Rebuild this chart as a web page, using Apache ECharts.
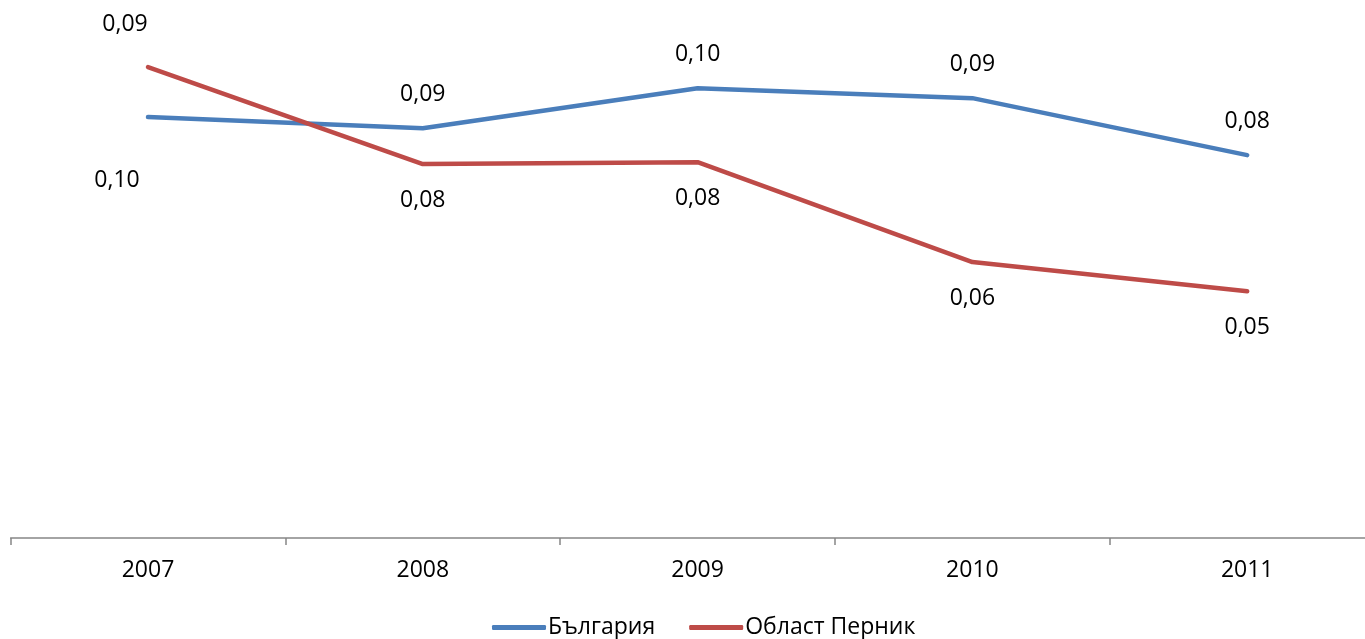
<!DOCTYPE html>
<html><head><meta charset="utf-8">
<script src="https://cdn.jsdelivr.net/npm/echarts@6/dist/echarts.min.js"></script>
<style>html,body{margin:0;padding:0;background:#fff}#c{width:1365px;height:639px}</style>
</head><body><div id="c"></div>
<script>
const years = ['2007', '2008', '2009', '2010', '2011'];
const bulgaria = [0.0894, 0.0870, 0.0955, 0.0934, 0.0813];
const pernik = [0.1000, 0.0794, 0.0798, 0.0586, 0.0524];
const bulgariaLabels = ['0,09', '0,09', '0,10', '0,09', '0,08'];
const pernikLabels = ['0,10', '0,08', '0,08', '0,06', '0,05'];
const seriesNames = ['България', 'Област Перник'];

const FONT = '"Open Sans", "Noto Sans", sans-serif';
const FS = 23;
const chart = echarts.init(document.getElementById('c'));

function buildData(values, firstLabelPos) {
  return values.map((v, i) => {
    const item = { value: v };
    if (i === 0) {
      item.label = { position: firstLabelPos, align: 'center', verticalAlign: 'middle' };
    }
    return item;
  });
}

chart.setOption({
  animation: false,
  textStyle: { fontFamily: FONT },
  grid: { left: 10.6, width: 1374, top: 20, bottom: 101, containLabel: false, outerBoundsMode: 'none' },
  xAxis: {
    type: 'category',
    data: years,
    boundaryGap: true,
    axisLine: { lineStyle: { color: '#868686', width: 1.5 } },
    axisTick: { show: true, length: 7, lineStyle: { color: '#868686', width: 1.5 } },
    axisLabel: { color: '#000', fontSize: FS, fontFamily: FONT, margin: 21 }
  },
  yAxis: {
    type: 'value', min: 0, max: 0.11, show: false,
    splitLine: { show: false }
  },
  legend: {
    data: seriesNames,
    bottom: -5,
    left: 487,
    itemWidth: 54,
    itemHeight: 5,
    itemGap: 34,
    icon: 'roundRect',
    textStyle: { color: '#000', fontSize: FS, fontFamily: FONT, padding: [0, 0, 0, -3] }
  },
  series: [
    {
      name: seriesNames[0],
      type: 'line',
      data: buildData(bulgaria, [-23, -93]),
      symbol: 'circle',
      symbolSize: 0.01,
      showSymbol: true,
      lineStyle: { color: '#4a7ebb', width: 4.5, cap: 'round', join: 'round' },
      itemStyle: { color: '#4a7ebb' },
      labelLayout: { hideOverlap: false },
      label: {
        show: true, position: 'top', distance: 22, color: '#000', fontSize: FS, fontFamily: FONT,
        formatter: p => bulgariaLabels[p.dataIndex]
      }
    },
    {
      name: seriesNames[1],
      type: 'line',
      data: buildData(pernik, [-31, 113]),
      symbol: 'circle',
      symbolSize: 0.01,
      showSymbol: true,
      lineStyle: { color: '#be4b48', width: 4.5, cap: 'round', join: 'round' },
      itemStyle: { color: '#be4b48' },
      labelLayout: { hideOverlap: false },
      label: {
        show: true, position: 'bottom', distance: 25, color: '#000', fontSize: FS, fontFamily: FONT,
        formatter: p => pernikLabels[p.dataIndex]
      }
    }
  ]
});
</script></body></html>
